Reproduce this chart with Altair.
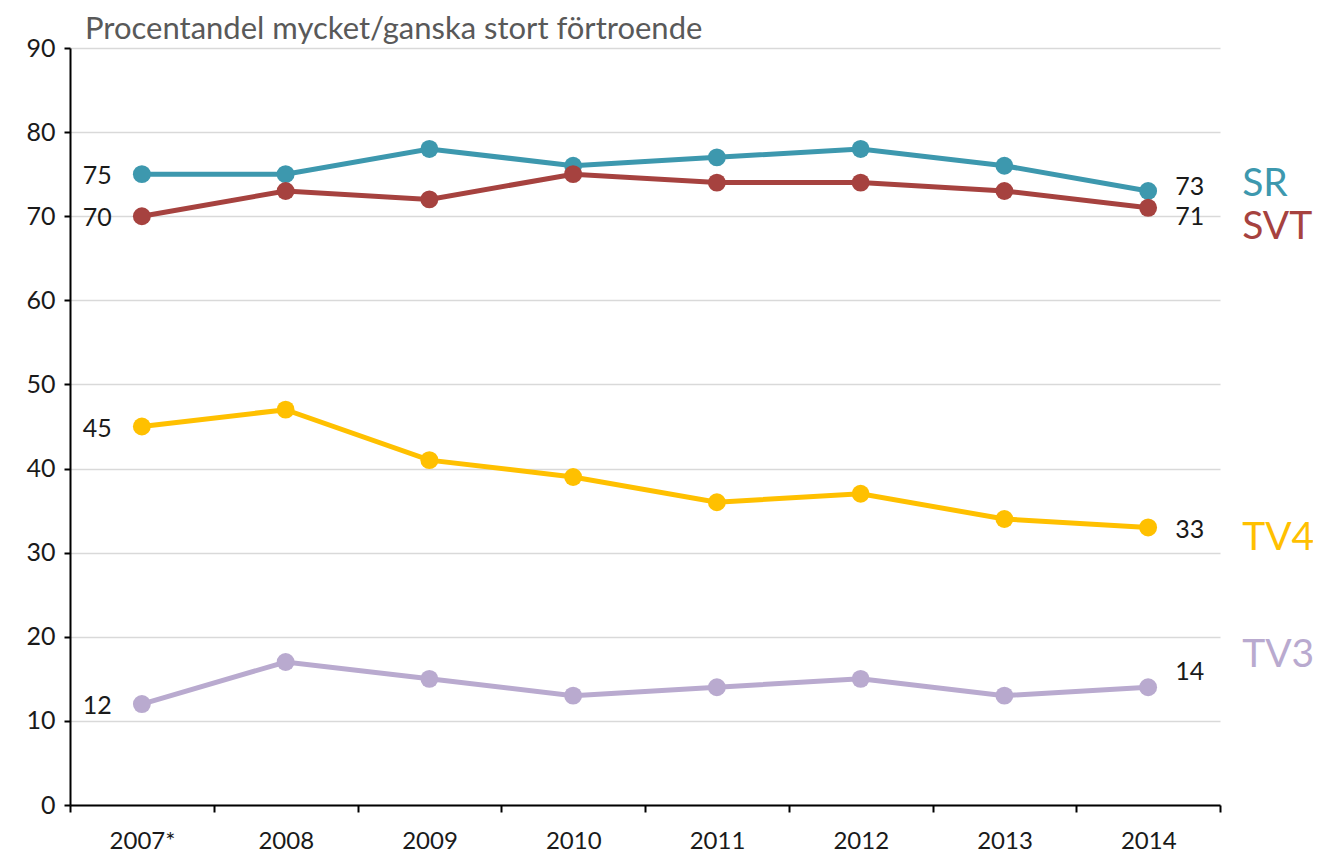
import altair as alt
import pandas as pd

years = ["2007*", "2008", "2009", "2010", "2011", "2012", "2013", "2014"]
series = ["SR", "SVT", "TV4", "TV3"]
sr = [75, 75, 78, 76, 77, 78, 76, 73]
svt = [70, 73, 72, 75, 74, 74, 73, 71]
tv4 = [45, 47, 41, 39, 36, 37, 34, 33]
tv3 = [12, 17, 15, 13, 14, 15, 13, 14]
colors = ["#3D98AE", "#A6423F", "#FFC000", "#B9AACF"]
title_text = "Procentandel mycket/ganska stort förtroende"

values = {"SR": sr, "SVT": svt, "TV4": tv4, "TV3": tv3}
rows = []
for s in series:
    for i, (yr, v) in enumerate(zip(years, values[s])):
        rows.append({"series": s, "year": yr, "idx": i + 0.5, "pos": i, "value": v})
df = pd.DataFrame(rows)

W, H = 1150, 757
FONT = "Lato"

color = alt.Color("series:N", scale=alt.Scale(domain=series, range=colors), legend=None)
label_js = "[" + ",".join("'%s'" % y for y in years) + ",'']"

x = alt.X("idx:Q", scale=alt.Scale(domain=[0, 8], nice=False, zero=False),
          axis=alt.Axis(values=list(range(9)), labelExpr=label_js + "[datum.value]",
                        labelOffset=72, grid=False, title=None, tickSize=7, tickWidth=2,
                        domainWidth=2, domainColor="#000000", tickColor="#000000",
                        labelFontSize=24, labelFont=FONT, labelColor="#1a1a1a",
                        labelPadding=17, labelFlush=False, labelOverlap=False))
y = alt.Y("value:Q", scale=alt.Scale(domain=[0, 90], nice=False),
          axis=alt.Axis(values=list(range(0, 91, 10)), grid=True, gridColor="#D9D9D9",
                        gridWidth=1.5, title=None, tickSize=6, tickWidth=2,
                        domainWidth=2, domainColor="#000000", tickColor="#000000",
                        labelFontSize=25, labelFont=FONT, labelColor="#1a1a1a",
                        labelPadding=9))

base = alt.Chart(df).encode(x=x, y=y, color=color)

lines = base.mark_line(strokeWidth=5)
points = base.mark_point(filled=True, size=320, opacity=1)

first = base.transform_filter("datum.pos == 0").mark_text(
    align="right", baseline="middle", dx=-30, dy=2, fontSize=25, font=FONT, color="#1a1a1a"
).encode(text="value:Q", color=alt.value("#1a1a1a"))

last_dy = {"SR": -4, "SVT": 9, "TV4": 3, "TV3": -15}
name_dy = {"SR": -7, "SVT": 19, "TV4": 11, "TV3": -32}

title = alt.Chart(pd.DataFrame({"t": [title_text]})).mark_text(
    align="left", baseline="alphabetic", fontSize=31, font=FONT, color="#595959"
).encode(text="t:N", x=alt.value(15), y=alt.value(-9))

layers = [lines, points, first, title]
for s in series:
    layers.append(
        base.transform_filter("datum.pos == 7 && datum.series == '%s'" % s).mark_text(
            align="left", baseline="middle", dx=27, dy=last_dy[s], fontSize=25, font=FONT,
            color="#1a1a1a"
        ).encode(text="value:Q", color=alt.value("#1a1a1a"))
    )
    layers.append(
        base.transform_filter("datum.pos == 7 && datum.series == '%s'" % s).mark_text(
            align="left", baseline="middle", dx=94, dy=name_dy[s], fontSize=39, font=FONT
        ).encode(text="series:N")
    )

chart = alt.layer(*layers).properties(
    width=W, height=H,
    autosize=alt.AutoSizeParams(type="none"),
    padding={"left": 62, "top": 40, "right": 93, "bottom": 47},
).configure_view(stroke=None)

chart.save("out.html", embed_options={"renderer": "svg", "actions": False})
